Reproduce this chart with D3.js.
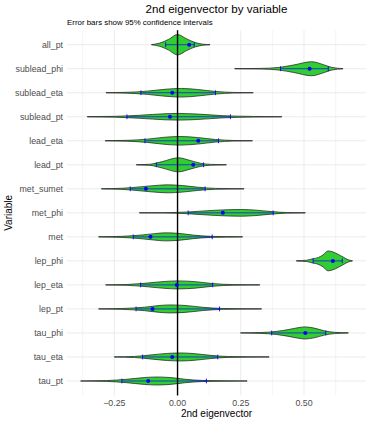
<!DOCTYPE html>
<html>
<head>
<meta charset="utf-8">
<script src="https://cdn.jsdelivr.net/npm/d3@7"></script>
<style>
  body { margin: 0; background: #fff; }
  svg { font-family: "Liberation Sans", Arial, sans-serif; }
</style>
</head>
<body>
<svg></svg>
<script>
// Variables, top to bottom
var variables = ["all_pt", "sublead_phi", "sublead_eta", "sublead_pt", "lead_eta",
    "lead_pt", "met_sumet", "met_phi", "met", "lep_phi", "lep_eta", "lep_pt",
    "tau_phi", "tau_eta", "tau_pt"]

// Mean and 95% confidence interval of each variable
var means  = [0.046, 0.522, -0.021, -0.030, 0.082, 0.062, -0.125, 0.179, -0.107, 0.614, -0.003, -0.099, 0.505, -0.021, -0.116]
var ciLow  = [-0.047, 0.407, -0.145, -0.200, -0.129, -0.084, -0.187, 0.042, -0.175, 0.536, -0.146, -0.164, 0.372, -0.138, -0.220]
var ciHigh = [0.066, 0.596, 0.150, 0.209, 0.162, 0.103, 0.109, 0.378, 0.137, 0.651, 0.139, 0.166, 0.586, 0.159, 0.114]

// Violin profiles: [value, relative density]
var profiles = [
    [[-0.103,0.01],[-0.07,0.15],[-0.035,0.5],[0.0,0.95],[0.035,0.55],[0.07,0.2],[0.1,0.05],[0.128,0.01]],
    [[0.226,0.01],[0.33,0.03],[0.40,0.12],[0.46,0.35],[0.53,0.65],[0.58,0.35],[0.61,0.12],[0.654,0.01]],
    [[-0.283,0.01],[-0.2,0.04],[-0.12,0.15],[-0.05,0.32],[0.016,0.4],[0.08,0.3],[0.15,0.12],[0.22,0.03],[0.299,0.01]],
    [[-0.357,0.01],[-0.25,0.04],[-0.15,0.14],[-0.05,0.28],[0.0,0.31],[0.08,0.25],[0.18,0.1],[0.3,0.03],[0.412,0.01]],
    [[-0.286,0.01],[-0.2,0.04],[-0.12,0.15],[-0.05,0.33],[0.01,0.4],[0.08,0.3],[0.15,0.12],[0.22,0.03],[0.296,0.01]],
    [[-0.163,0.01],[-0.11,0.05],[-0.06,0.3],[0.003,0.65],[0.05,0.4],[0.09,0.15],[0.13,0.04],[0.193,0.01]],
    [[-0.301,0.01],[-0.22,0.05],[-0.14,0.2],[-0.07,0.34],[-0.037,0.37],[0.02,0.3],[0.08,0.15],[0.15,0.04],[0.263,0.01]],
    [[-0.151,0.01],[-0.05,0.02],[0.04,0.08],[0.12,0.2],[0.2,0.29],[0.253,0.31],[0.31,0.25],[0.37,0.12],[0.43,0.03],[0.505,0.01]],
    [[-0.312,0.01],[-0.22,0.05],[-0.14,0.18],[-0.09,0.3],[-0.05,0.37],[0.0,0.33],[0.06,0.17],[0.13,0.05],[0.257,0.01]],
    [[0.47,0.02],[0.51,0.06],[0.535,0.2],[0.555,0.3],[0.575,0.55],[0.595,0.92],[0.615,0.82],[0.635,0.6],[0.655,0.35],[0.675,0.1],[0.691,0.02]],
    [[-0.284,0.01],[-0.2,0.04],[-0.12,0.17],[-0.05,0.32],[0.0,0.37],[0.07,0.3],[0.14,0.12],[0.22,0.03],[0.325,0.01]],
    [[-0.312,0.01],[-0.22,0.04],[-0.13,0.16],[-0.07,0.32],[-0.03,0.37],[0.03,0.32],[0.1,0.15],[0.18,0.04],[0.332,0.01]],
    [[0.249,0.01],[0.33,0.04],[0.39,0.14],[0.44,0.32],[0.48,0.5],[0.503,0.56],[0.54,0.45],[0.58,0.2],[0.62,0.06],[0.675,0.01]],
    [[-0.25,0.01],[-0.17,0.05],[-0.1,0.2],[-0.04,0.33],[0.016,0.37],[0.07,0.3],[0.13,0.15],[0.2,0.04],[0.362,0.01]],
    [[-0.383,0.01],[-0.28,0.04],[-0.2,0.16],[-0.13,0.32],[-0.083,0.37],[-0.03,0.32],[0.03,0.16],[0.1,0.05],[0.275,0.01]]
]

var majorTicks = [-0.25, 0, 0.25, 0.5]
var minorTicks = [-0.375, -0.125, 0.125, 0.375, 0.625]

var width = 370,
    height = 423
var margin = {top: 30.3, right: 4, bottom: 27.6, left: 67}

var svg = d3.select("svg")
    .attr("width", width)
    .attr("height", height)

var x = d3.scaleLinear()
    .domain([-0.437, 0.745])
    .range([margin.left, width - margin.right])

var y = d3.scalePoint()
    .domain(variables)
    .range([margin.top, height - margin.bottom])
    .padding(0.6)

var halfWidth = 0.45 * y.step()

// Grid
svg.append("g").selectAll("line")
    .data(minorTicks)
    .enter().append("line")
    .attr("x1", x).attr("x2", x)
    .attr("y1", margin.top).attr("y2", height - margin.bottom)
    .style("stroke", "#ebebeb")
    .style("stroke-width", 0.5)

svg.append("g").selectAll("line")
    .data(majorTicks)
    .enter().append("line")
    .attr("x1", x).attr("x2", x)
    .attr("y1", margin.top).attr("y2", height - margin.bottom)
    .style("stroke", "#ebebeb")
    .style("stroke-width", 1)

svg.append("g").selectAll("line")
    .data(variables)
    .enter().append("line")
    .attr("x1", margin.left).attr("x2", width - margin.right)
    .attr("y1", y).attr("y2", y)
    .style("stroke", "#ebebeb")
    .style("stroke-width", 1)

// Violins
var rows = variables.map(function(v, i) {
    return {name: v, mean: means[i], lo: ciLow[i], hi: ciHigh[i], profile: profiles[i]}
})

svg.append("g").selectAll("path")
    .data(rows)
    .enter().append("path")
    .attr("d", function(d) {
        var cy = y(d.name)
        return d3.area()
            .curve(d3.curveMonotoneX)
            .x(function(p) { return x(p[0]) })
            .y0(function(p) { return cy - p[1] * halfWidth })
            .y1(function(p) { return cy + p[1] * halfWidth })(d.profile) + ""
    })
    .style("fill", "#32cd32")
    .style("stroke", "#222")
    .style("stroke-width", 0.75)

// Zero line
svg.append("line")
    .attr("x1", x(0)).attr("x2", x(0))
    .attr("y1", margin.top).attr("y2", height - margin.bottom)
    .style("stroke", "#000")
    .style("stroke-width", 1.4)

// Error bars and means
var bars = svg.append("g").selectAll("g")
    .data(rows)
    .enter().append("g")
    .attr("transform", function(d) { return "translate(0," + y(d.name) + ")" })

bars.append("line")
    .attr("x1", function(d) { return x(d.lo) })
    .attr("x2", function(d) { return x(d.hi) })
    .style("stroke", "#0000ff")
    .style("stroke-opacity", 0.75)
    .style("stroke-width", 0.9)

bars.selectAll(".cap")
    .data(function(d) { return [d.lo, d.hi] })
    .enter().append("line")
    .attr("class", "cap")
    .attr("x1", x).attr("x2", x)
    .attr("y1", -2.4).attr("y2", 2.4)
    .style("stroke", "#0000ff")
    .style("stroke-width", 0.9)

bars.append("circle")
    .attr("cx", function(d) { return x(d.mean) })
    .attr("r", 2)
    .style("fill", "#0000ff")

// Axis labels
svg.append("g").selectAll("text")
    .data(variables)
    .enter().append("text")
    .attr("x", margin.left - 4)
    .attr("y", y)
    .attr("dy", "0.35em")
    .attr("text-anchor", "end")
    .style("font-size", "8.8px")
    .style("fill", "#4d4d4d")
    .text(function(d) { return d })

svg.append("g").selectAll("text")
    .data(majorTicks)
    .enter().append("text")
    .attr("x", x)
    .attr("y", height - margin.bottom + 11)
    .attr("text-anchor", "middle")
    .style("font-size", "8.8px")
    .style("fill", "#4d4d4d")
    .text(d3.format(".2f"))

svg.append("text")
    .attr("x", (margin.left + width - margin.right) / 2)
    .attr("y", height - 6)
    .attr("text-anchor", "middle")
    .style("font-size", "10px")
    .style("fill", "#000")
    .text("2nd eigenvector")

svg.append("text")
    .attr("transform", "translate(12," + ((margin.top + height - margin.bottom) / 2) + ") rotate(-90)")
    .attr("text-anchor", "middle")
    .style("font-size", "10px")
    .style("fill", "#000")
    .text("Variable")

// Title and subtitle
svg.append("text")
    .attr("x", (margin.left + width - margin.right) / 2)
    .attr("y", 13)
    .attr("text-anchor", "middle")
    .style("font-size", "11.6px")
    .style("fill", "#000")
    .text("2nd eigenvector by variable")

svg.append("text")
    .attr("x", margin.left)
    .attr("y", 25)
    .style("font-size", "7.9px")
    .style("fill", "#000")
    .text("Error bars show 95% confidence intervals")
</script>
</body>
</html>
